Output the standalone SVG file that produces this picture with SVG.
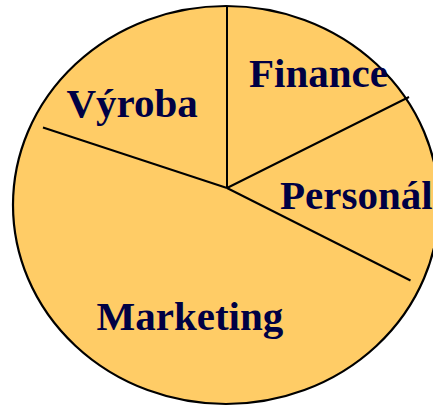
<svg xmlns="http://www.w3.org/2000/svg" width="433" height="406" viewBox="0 0 433 406">
<style>
.lbl{font-family:"Liberation Serif","Times New Roman",serif;font-weight:bold;font-size:41px;fill:#000044}
.div{stroke:#000;stroke-width:2;fill:none;stroke-linecap:butt}
</style>
<rect width="433" height="406" fill="#fff"/>
<ellipse id="pie" cx="226" cy="205" rx="213" ry="199" fill="#FFCC66" stroke="#000" stroke-width="2.2"/>
<g id="dividers">
<line class="div" x1="227" y1="6" x2="227" y2="188"/>
<line class="div" x1="43" y1="127.5" x2="227" y2="188"/>
<line class="div" x1="227" y1="188" x2="409" y2="97"/>
<line class="div" x1="227" y1="188" x2="410.5" y2="280.5"/>
</g>
<g id="vyroba"><text class="lbl" x="66.5" y="117">Výroba</text></g>
<g id="finance"><text class="lbl" x="249" y="87">Finance</text></g>
<g id="personal"><text class="lbl" x="280" y="209">Personál</text></g>
<g id="marketing"><text class="lbl" x="96.5" y="330">Marketing</text></g>
</svg>
